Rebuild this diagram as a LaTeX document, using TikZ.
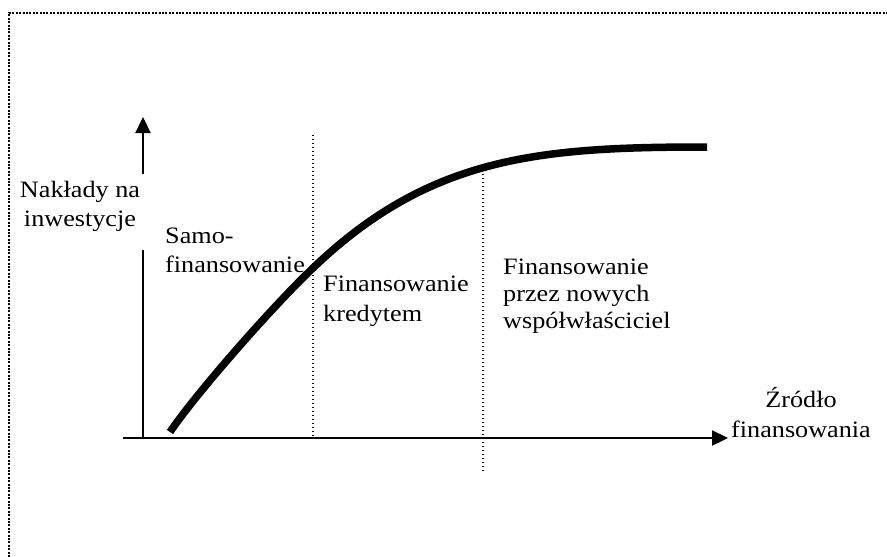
\documentclass[tikz,border=0pt]{standalone}
\usepackage{fontspec}
\setmainfont{Liberation Serif}[FakeStretch=1.115]
\usetikzlibrary{arrows.meta}
\begin{document}
\begin{tikzpicture}[x=1pt,y=-1pt,
  lbl/.style={font=\fontsize{23.5}{28}\selectfont, inner sep=0pt, anchor=base west},
  lblc/.style={lbl, anchor=base},
  axis/.style={line width=2.3pt},
  tipend/.style={-{Triangle[length=16pt,width=15pt]}},
  divider/.style={line width=1.3pt, dash pattern=on 1.3pt off 2.7pt},
  framestyle/.style={line width=2pt, dash pattern=on 2pt off 1.4pt},
  growth/.style={line width=7.5pt}]
\useasboundingbox (0,0) rectangle (887,557);

% frame (only top and left edges visible)
\coordinate (fbl) at (9,557);
\coordinate (ftl) at (9,13);
\coordinate (ftr) at (887,13);
\draw[framestyle] (fbl) -- (ftl) -- (ftr);

% axes
\coordinate (origin) at (143,438);
\coordinate (ygapA) at (143,250);
\coordinate (ygapB) at (143,174);
\coordinate (ytip) at (143,117);
\coordinate (xstart) at (123,438);
\coordinate (xtip) at (728,438);
\draw[axis] (origin) -- (ygapA);
\draw[axis,tipend] (ygapB) -- (ytip);
\draw[axis,tipend] (xstart) -- (xtip);

% dividers
\coordinate (d1top) at (313,135);
\coordinate (d1bot) at (313,438);
\coordinate (d2top) at (483,170);
\coordinate (d2bot) at (483,473);
\draw[divider] (d1top) -- (d1bot);
\draw[divider] (d2top) -- (d2bot);

% growth curve
\coordinate (cstart) at (170,432);
\coordinate (cmid) at (313,268);
\coordinate (cend) at (707,147);
\draw[growth] (cstart) .. controls (195,395) and (270,309) .. (cmid)
  .. controls (430,156) and (540,147) .. (cend);

% labels
\node[lblc] (ya) at (80,197) {Nakłady na};
\node[lblc] (yb) at (80,226) {inwestycje};
\node[lbl] (sa) at (165,243) {Samo-};
\node[lbl] (sb) at (165,272) {finansowanie};
\node[lbl] (ka) at (323,291) {Finansowanie};
\node[lbl] (kb) at (323,321) {kredytem};
\node[lbl] (wa) at (503,274) {Finansowanie};
\node[lbl] (wb) at (503,301) {przez nowych};
\node[lbl] (wc) at (503,328) {współwłaściciel};
\node[lblc] (xa) at (801,407) {Źródło};
\node[lblc] (xb) at (801,437) {finansowania};
\end{tikzpicture}
\end{document}
